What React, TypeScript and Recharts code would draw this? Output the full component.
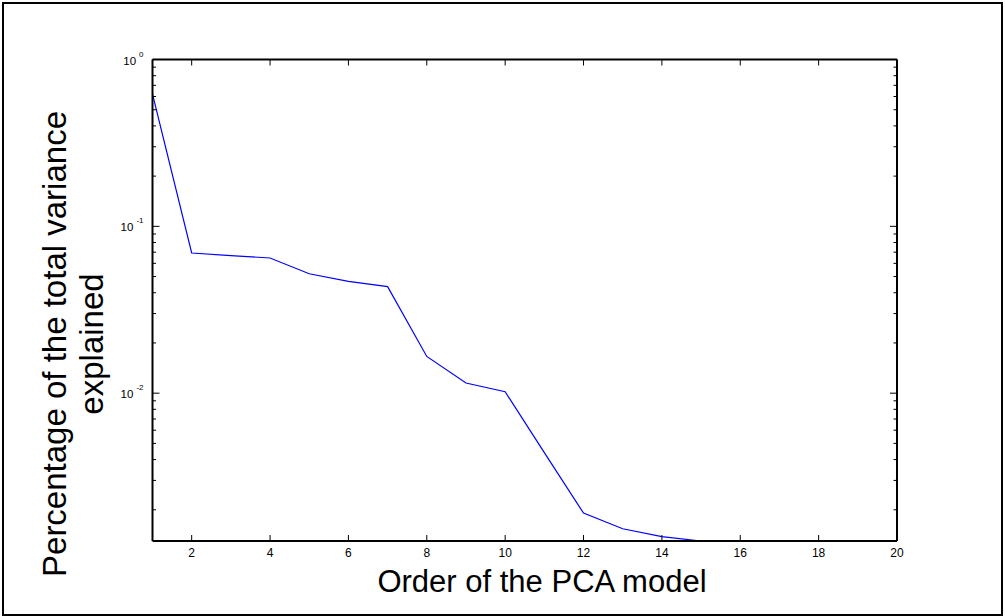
import { LineChart, Line, XAxis, YAxis } from 'recharts';

const orders = [1, 2, 3, 4, 5, 6, 7, 8, 9, 10, 11, 12, 13, 14, 15, 16, 17, 18, 19, 20];
const varianceExplained = [
  0.62, 0.0692, 0.0668, 0.0646, 0.052, 0.0468, 0.0435, 0.0166, 0.0115, 0.0102,
  0.0044, 0.00191, 0.00154, 0.00138, 0.0013, 0.00118, 0.00108, 0.001, 0.00092, 0.00085,
];
const xTicks = [2, 4, 6, 8, 10, 12, 14, 16, 18, 20];
const yTicks = [
  0.002, 0.003, 0.004, 0.005, 0.006, 0.007, 0.008, 0.009,
  0.01, 0.02, 0.03, 0.04, 0.05, 0.06, 0.07, 0.08, 0.09,
  0.1, 0.2, 0.3, 0.4, 0.5, 0.6, 0.7, 0.8, 0.9, 1,
];
const decadeLabels: Record<string, string> = { '0.01': '-2', '0.1': '-1', '1': '0' };
const yDomain = [0.0013, 1];

const data = orders.map((x, i) => ({ x, v: varianceExplained[i] }));

const FONT = '"Liberation Sans", Arial, sans-serif';
const MAJOR = 7;
const MINOR = 3.5;

// ticks are drawn inward like a matlab box axis
function LeftTick(props: any) {
  const { x, y, payload } = props;
  const exp = decadeLabels[String(payload.value)];
  const len = exp ? MAJOR : MINOR;
  return (
    <g>
      <path d={`M${x},${y}h${len}`} stroke="#000" strokeWidth={1} fill="none" />
      {exp && (
        <text x={x - 9} y={y + 5} textAnchor="end" fontSize={11.5} fontFamily={FONT} fill="#000" stroke="none">
          10
          <tspan dx={3} dy={-8} fontSize={8}>{exp}</tspan>
        </text>
      )}
    </g>
  );
}

function RightTick(props: any) {
  const { x, y, payload } = props;
  const len = decadeLabels[String(payload.value)] ? MAJOR : MINOR;
  return <path d={`M${x},${y}h${-len}`} stroke="#000" strokeWidth={1} fill="none" />;
}

function BottomTick(props: any) {
  const { x, y, payload } = props;
  return (
    <g>
      <path d={`M${x},${y}v-6`} stroke="#000" strokeWidth={1} fill="none" />
      <text x={x} y={y + 16} textAnchor="middle" fontSize={12} fontFamily={FONT} fill="#000" stroke="none">
        {payload.value}
      </text>
    </g>
  );
}

function TopTick(props: any) {
  const { x, y } = props;
  return <path d={`M${x},${y}v6`} stroke="#000" strokeWidth={1} fill="none" />;
}

const yLabel = () => (
  <g fontFamily={FONT} fontSize={33} fill="#000">
    <text x={66} y={344} textAnchor="middle" transform="rotate(-90 66 344)">
      Percentage of the total variance
    </text>
    <text x={103} y={344} textAnchor="middle" transform="rotate(-90 103 344)">
      explained
    </text>
  </g>
);

const xLabel = () => (
  <text x={542} y={592} textAnchor="middle" fontFamily={FONT} fontSize={31} fill="#000">
    Order of the PCA model
  </text>
);

export default function App() {
  return (
    <div style={{ position: 'absolute', left: 0, top: 0, width: 1005, height: 616, background: '#fff' }}>
      <div
        style={{
          position: 'absolute',
          left: 2,
          top: 2,
          width: 1001,
          height: 614,
          border: '2px solid #000',
          boxSizing: 'border-box',
        }}
      />
      <div style={{ position: 'absolute', left: 0, top: 0 }}>
        <LineChart width={1005} height={616} data={data} margin={{ top: 58.5, right: 107, bottom: 0, left: 0.5 }}>
          <XAxis
            dataKey="x"
            type="number"
            domain={[1, 20]}
            ticks={xTicks}
            interval={0}
            height={75}
            tickSize={0}
            tickMargin={0}
            tickLine={false}
            tick={<BottomTick />}
            axisLine={{ stroke: '#000', strokeWidth: 2 }}
            label={xLabel}
          />
          <XAxis
            xAxisId="top"
            orientation="top"
            dataKey="x"
            type="number"
            domain={[1, 20]}
            ticks={xTicks}
            interval={0}
            height={1}
            tickSize={0}
            tickMargin={0}
            tickLine={false}
            tick={<TopTick />}
            axisLine={{ stroke: '#000', strokeWidth: 2 }}
          />
          <YAxis
            scale="log"
            type="number"
            domain={yDomain}
            allowDataOverflow
            ticks={yTicks}
            interval={0}
            width={152}
            tickSize={0}
            tickMargin={0}
            tickLine={false}
            tick={<LeftTick />}
            axisLine={{ stroke: '#000', strokeWidth: 2 }}
            label={yLabel}
          />
          <YAxis
            yAxisId="right"
            orientation="right"
            scale="log"
            type="number"
            domain={yDomain}
            allowDataOverflow
            ticks={yTicks}
            interval={0}
            width={1}
            tickSize={0}
            tickMargin={0}
            tickLine={false}
            tick={<RightTick />}
            axisLine={{ stroke: '#000', strokeWidth: 2 }}
          />
          <Line
            type="linear"
            dataKey="v"
            stroke="#0000ff"
            strokeWidth={1.2}
            dot={false}
            activeDot={false}
            isAnimationActive={false}
          />
        </LineChart>
      </div>
    </div>
  );
}
